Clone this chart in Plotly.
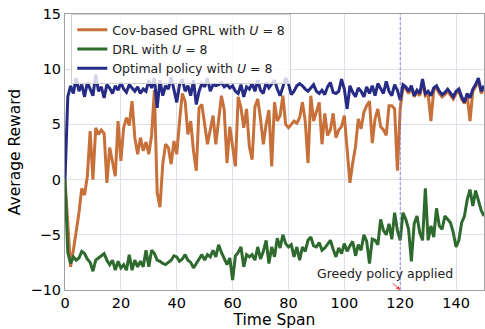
import plotly.graph_objects as go

t = list(range(0, 151))

gprl = [0, -4.5, -7.9, -6.4, -4.8, -3.0, -0.8, -1.4, 0.3, 4.4,
        0.0, 4.7, 4.1, 4.5, 4.2, -0.3, 2.9, 1.7, 0.3, 5.3,
        1.7, 4.7, 5.6, 4.9, 7.1, 3.8, 2.3, 3.8, 2.6, 3.4,
        2.3, 4.0, 8.1, -1.2, -2.5, 1.4, 3.2, 2.9, 1.4, 3.5,
        2.3, 5.3, 7.8, 7.1, 4.1, 5.3, 2.6, 0.8, 6.5, 6.8,
        5.0, 3.2, 4.5, 5.8, 3.2, 5.5, 7.6, 6.3, 1.5, 4.8,
        3.0, 1.2, 7.5, 6.5, 4.7, 6.4, 3.0, 1.8, 6.6, 7.3,
        5.5, 3.2, 5.0, 6.3, 1.2, 7.0, 5.3, 5.8, 7.6, 5.0,
        4.7, 5.0, 5.3, 5.1, 5.6, 7.0, 5.3, 1.5, 7.6, 5.3,
        6.2, 7.0, 3.2, 6.0, 4.0, 4.5, 6.0, 3.8, 4.5, 4.8,
        5.8, 2.4, -0.3, 1.5, 3.0, 5.5, 4.6, 6.1, 6.7, 7.1,
        3.3, 5.5, 6.4, 4.8, 4.5, 4.0, 6.7, 6.7, 6.4, 0.8,
        6.4, 8.4, 8.2, 7.8, 8.3, 7.5, 7.9, 7.6, 8.8, 7.6,
        7.8, 5.3, 8.1, 8.3, 7.8, 7.5, 7.7, 8.0, 7.6, 7.3,
        7.8, 8.0, 7.3, 6.9, 7.6, 5.3, 8.0, 8.4, 9.0, 7.8,
        8.3]

drl = [0, -6.6, -7.6, -7.0, -7.3, -7.1, -6.5, -6.7, -7.2, -7.5,
       -8.3, -7.3, -7.1, -6.9, -6.7, -7.3, -7.7, -7.3, -8.2, -7.4,
       -8.0, -7.7, -8.2, -6.8, -8.2, -7.3, -7.9, -7.4, -7.9, -6.4,
       -7.9, -6.4, -6.7, -7.3, -7.4, -7.6, -7.7, -7.5, -7.3, -6.9,
       -7.0, -7.4, -7.2, -6.8, -7.3, -7.5, -8.0, -7.6, -7.2, -6.8,
       -7.3, -6.8, -7.0, -6.4, -7.0, -5.9, -6.6, -7.2, -7.7, -7.1,
       -9.1, -6.9, -6.6, -6.1, -7.9, -6.8, -7.0, -6.8, -7.3, -6.1,
       -7.2, -6.5, -5.5, -7.6, -6.1, -7.0, -5.3, -6.2, -5.0, -5.8,
       -6.1, -5.9, -7.0, -6.1, -7.3, -6.1, -6.5, -5.5, -5.2, -6.0,
       -6.1, -5.7, -6.4, -6.2, -5.8, -5.5, -6.3, -7.0, -6.2, -6.7,
       -5.8, -6.5, -6.0, -5.6, -6.9, -5.9, -6.4, -5.0, -5.6, -7.6,
       -5.4, -5.5, -5.9, -3.6, -4.6, -5.0, -4.0, -5.4, -3.0, -4.6,
       -5.5, -3.0, -3.6, -4.5, -7.4, -4.0, -3.3, -4.8, -5.5, -0.8,
       -5.5, -4.2, -5.2, -2.6, -4.2, -4.5, -3.3, -3.6, -3.9, -4.8,
       -6.1, -5.5, -3.9, -3.3, -1.8, -0.9, -2.4, -1.0, -2.0, -2.8,
       -3.3]

optimal = [0, 7.5, 8.5, 7.8, 9.2, 8.0, 8.6, 7.5, 8.8, 8.2,
           7.6, 9.5, 8.0, 8.4, 7.4, 8.6, 8.3, 7.8, 8.5, 8.1,
           8.8, 8.2, 7.9, 8.6, 8.3, 8.0, 8.4, 7.8, 8.2, 8.0,
           9.0, 8.3, 9.2, 6.5, 9.0, 7.6, 8.5, 8.2, 9.3, 8.0,
           7.0, 8.6, 9.1, 8.0, 8.5, 7.6, 9.0, 6.8, 8.0, 8.7,
           8.4, 9.2, 8.0, 8.6, 8.5, 8.6, 8.8, 8.4, 8.6, 8.3,
           8.5, 8.0, 7.8, 8.6, 7.5, 8.4, 8.2, 8.7, 8.0, 9.0,
           8.1, 7.8, 8.8, 8.3, 8.6, 9.0, 8.2, 7.6, 8.4, 9.2,
           8.7, 7.7, 8.0, 8.5, 8.7, 8.5, 8.2, 8.0, 8.3, 8.6,
           8.0, 7.8, 8.1, 7.7, 8.4, 8.8, 7.9, 7.8, 8.0, 9.1,
           8.2, 6.4, 8.5, 7.9, 7.5, 8.3, 8.0, 7.5, 8.4, 7.8,
           8.5, 7.6, 8.7, 8.2, 7.8, 8.9, 8.0, 7.6, 8.6, 8.1,
           7.2, 8.6, 8.4, 8.0, 8.5, 7.6, 8.1, 7.8, 9.1, 7.8,
           8.0, 7.6, 8.3, 8.5, 8.0, 7.7, 7.9, 8.2, 7.8, 7.5,
           8.0, 8.2, 7.5, 7.0, 7.8, 7.4, 8.2, 8.6, 9.2, 8.0,
           8.5]

x_ticks = [0, 20, 40, 60, 80, 100, 120, 140]
y_ticks = [-10, -5, 0, 5, 10, 15]
greedy_t = 120

FONT = "DejaVu Sans"

fig = go.Figure()
fig.add_trace(go.Scatter(x=t, y=gprl, mode="lines", name="Cov-based GPRL with <i>U</i> = 8",
                         line=dict(color="#c8703a", width=3)))
fig.add_trace(go.Scatter(x=t, y=drl, mode="lines", name="DRL with <i>U</i> = 8",
                         line=dict(color="#2e6a2e", width=3)))
fig.add_trace(go.Scatter(x=t, y=optimal, mode="lines", name="Optimal policy with <i>U</i> = 8",
                         line=dict(color="#262b86", width=3)))

fig.add_shape(type="line", x0=greedy_t, x1=greedy_t, xref="x", y0=0, y1=1, yref="paper",
              layer="above", line=dict(color="rgba(110,110,225,0.75)", width=1, dash="3px,2px"))

fig.add_annotation(x=114.6, y=-8.5, text="Greedy policy applied", showarrow=False,
                   font=dict(family=FONT, size=12.5, color="#222"))
fig.add_annotation(x=greedy_t, y=-10, ax=-9, ay=-8, text="", showarrow=True,
                   arrowcolor="#e04040", arrowwidth=1, arrowhead=2, arrowsize=0.8)

fig.update_layout(
    width=485, height=329,
    margin=dict(l=65, r=1, t=14, b=39),
    paper_bgcolor="white", plot_bgcolor="white",
    font=dict(family=FONT, color="black", size=14.5),
    showlegend=True,
    legend=dict(x=0.015, y=1.0, xanchor="left", yanchor="top",
                bgcolor="rgba(255,255,255,0.8)", bordercolor="#d0d0d0", borderwidth=1,
                font=dict(family=FONT, size=12.5, color="#222"),
                tracegroupgap=0, itemwidth=30),
    xaxis=dict(range=[0, 150], tickvals=x_ticks, showgrid=True, gridcolor="#e0e0e8",
               showline=True, linecolor="#a0a0a0", linewidth=1, mirror=True,
               ticks="", zeroline=False, title=dict(text="Time Span", font=dict(size=15.5), standoff=0),
               tickfont=dict(size=14.5)),
    yaxis=dict(range=[-10, 15], tickvals=y_ticks, showgrid=True, gridcolor="#e0e0e8",
               showline=True, linecolor="#a0a0a0", linewidth=1, mirror=True,
               ticks="", zeroline=False, title=dict(text="Average Reward", font=dict(size=15.5), standoff=6),
               tickfont=dict(size=14.5)),
)

fig.write_html("out.html")
